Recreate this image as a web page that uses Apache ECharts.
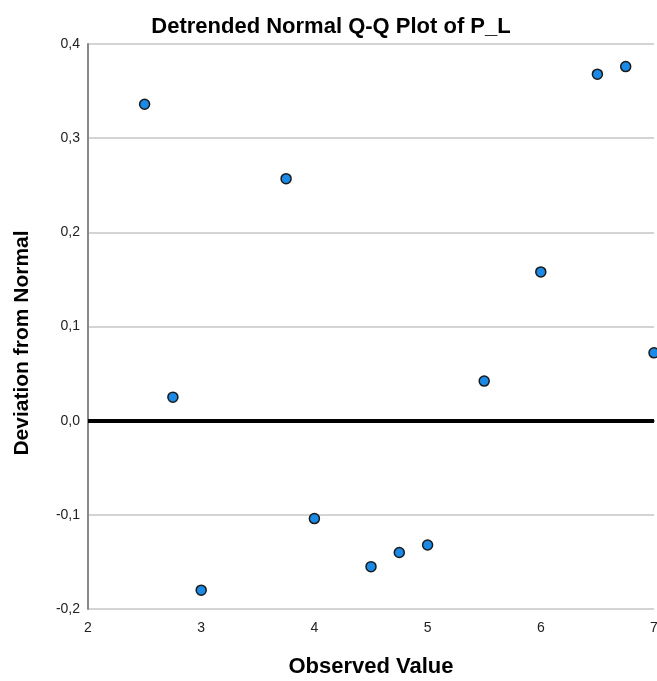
<!DOCTYPE html>
<html><head><meta charset="utf-8">
<script src="https://cdn.jsdelivr.net/npm/echarts@6/dist/echarts.min.js"></script>
<style>html,body{margin:0;padding:0;background:#fff;overflow:hidden}#c{width:657px;height:681px}</style>
</head><body><div id="c"></div>
<script>
const observed = [2.5, 2.75, 3.0, 3.75, 4.0, 4.5, 4.75, 5.0, 5.5, 6.0, 6.5, 6.75, 7.0];
const deviation = [0.336, 0.025, -0.180, 0.257, -0.104, -0.155, -0.140, -0.132, 0.042, 0.158, 0.368, 0.376, 0.072];
const title = 'Detrended Normal Q-Q Plot of P_L';
const xName = 'Observed Value';
const yName = 'Deviation from Normal';

const chart = echarts.init(document.getElementById('c'));
const fmt = v => v.toFixed(1).replace('.', ',');
chart.setOption({
  animation: false,
  title: { text: title, left: 326, top: 11, textAlign: 'center',
    textStyle: { fontFamily: 'Liberation Sans', fontSize: 22, fontWeight: 'bold', color: '#000' } },
  grid: { left: 88, right: 3, top: 44, bottom: 72, outerBoundsMode: 'none', containLabel: false },
  graphic: [{
    type: 'text', x: 22, y: 343, rotation: Math.PI / 2,
    style: { text: yName, fontFamily: 'Liberation Sans', fontSize: 21, fontWeight: 'bold',
      fill: '#000', align: 'center', verticalAlign: 'middle' }
  }],
  xAxis: { type: 'value', min: 2, max: 7, interval: 1,
    name: xName, nameLocation: 'middle', nameGap: 47,
    nameTextStyle: { fontFamily: 'Liberation Sans', fontSize: 22, fontWeight: 'bold', color: '#000' },
    axisLine: { lineStyle: { color: '#888', width: 2 } }, axisTick: { show: false },
    axisLabel: { fontFamily: 'Liberation Sans', fontSize: 14, color: '#222', margin: 12 },
    splitLine: { show: false } },
  yAxis: { type: 'value', min: -0.2, max: 0.4, interval: 0.1,
    axisLine: { show: true, lineStyle: { color: '#888', width: 2 } }, axisTick: { show: false },
    axisLabel: { fontFamily: 'Liberation Sans', fontSize: 14, color: '#222', margin: 8, formatter: fmt },
    splitLine: { lineStyle: { color: '#d4d4d4', width: 2 } } },
  series: [{
    type: 'scatter', data: observed.map((x, i) => [x, deviation[i]]),
    symbolSize: 10,
    itemStyle: { color: '#1a8ae6', borderColor: '#1a1a1a', borderWidth: 1.5, opacity: 1 },
    markLine: { silent: true, symbol: 'none', label: { show: false },
      lineStyle: { color: '#000', width: 4, type: 'solid' },
      data: [{ yAxis: 0 }] },
    z: 5
  }]
});
</script></body></html>
